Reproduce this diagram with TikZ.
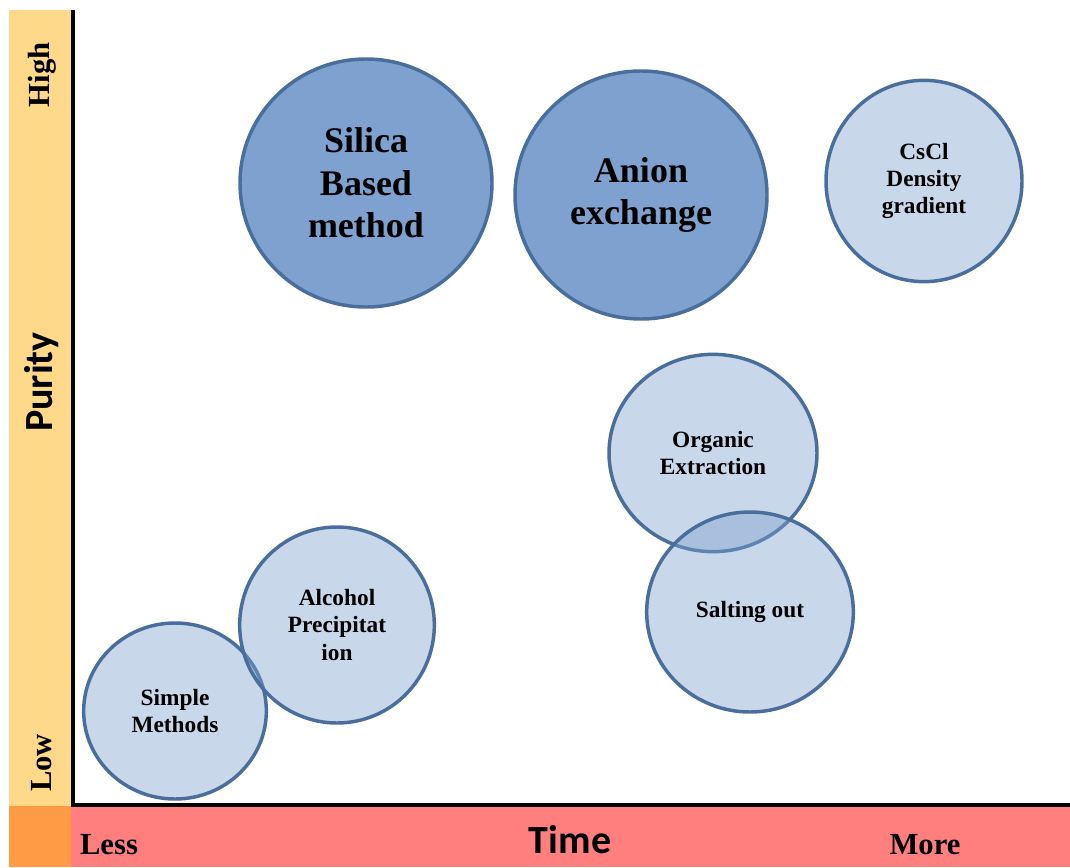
\documentclass[tikz,border=0pt]{standalone}
\usepackage{fontspec}
\setmainfont{Liberation Serif}
\newfontfamily\calib{Carlito}
\usetikzlibrary{shapes.geometric}
\definecolor{yellowband}{HTML}{FFD98A}
\definecolor{redband}{HTML}{FF7F7F}
\definecolor{orangecorner}{HTML}{FF9B45}
\definecolor{cfill}{HTML}{7EA1CF}
\definecolor{cline}{HTML}{4A6E9C}
\begin{document}
\begin{tikzpicture}[x=0.75pt,y=-0.75pt,
  blob/.style={ellipse, draw=cline, line width=2.6pt, inner sep=0pt},
  dark/.style={blob, fill=cfill},
  light/.style={blob, fill=cfill, fill opacity=0.42},
  bigtxt/.style={font=\fontsize{27}{32}\selectfont\bfseries, align=center},
  smalltxt/.style={font=\fontsize{17.5}{20.6}\selectfont\bfseries, align=center},
  axistxt/.style={font=\fontsize{23}{27}\selectfont\bfseries},
  titletxt/.style={font=\calib\fontsize{30}{36}\selectfont\bfseries}]

\useasboundingbox (0,0) rectangle (1070,867);
\fill[white] (0,0) rectangle (1070,867);

% bars
\fill[fill=yellowband] (9,10) rectangle (71,806);
\fill[fill=orangecorner] (9,806) rectangle (71,867);
\fill[fill=redband] (71,806) rectangle (1070,867);
\coordinate (ytop) at (72.5,10);
\coordinate (origin) at (72.5,805);
\coordinate (xend) at (1070,805);
\draw[line width=3pt] (ytop) -- (origin) -- (xend);

% axis labels
\node[axistxt, rotate=90] (high) at (42,75) {High};
\node[axistxt, rotate=90] (low) at (42,763) {Low};
\node[titletxt, rotate=90] (purity) at (42,382) {Purity};
\node[titletxt] (time) at (570,840) {Time};
\node[axistxt] (less) at (109,845) {Less};
\node[axistxt] (more) at (925,845) {More};

% circles
\node[dark, minimum width=189pt, minimum height=186pt] (silica) at (366,183) {};
\node[dark, minimum width=189pt, minimum height=186pt] (anion) at (641,195) {};
\node[light, minimum width=147pt, minimum height=151pt] (cscl) at (924,181) {};
\node[light, minimum width=156pt, minimum height=148pt] (organic) at (713,453) {};
\node[light, minimum width=155pt, minimum height=150pt] (salting) at (750,612) {};
\node[light, minimum width=137pt, minimum height=132pt] (simple) at (175,711) {};
\node[light, minimum width=146pt, minimum height=147pt] (alcohol) at (337,625) {};

% texts
\node[bigtxt] (silicaT) at (silica.center) {Silica\\Based\\method};
\node[bigtxt] (anionT) at (anion.center) {Anion\\exchange};
\node[smalltxt] (csclT) at (cscl.center) {CsCl\\Density\\gradient};
\node[smalltxt] (organicT) at (organic.center) {Organic\\Extraction};
\node[smalltxt] (saltingT) at (salting.center) {Salting out};
\node[smalltxt] (simpleT) at (simple.center) {Simple\\Methods};
\node[smalltxt] (alcoholT) at (alcohol.center) {Alcohol\\Precipitat\\ion};
\end{tikzpicture}
\end{document}
